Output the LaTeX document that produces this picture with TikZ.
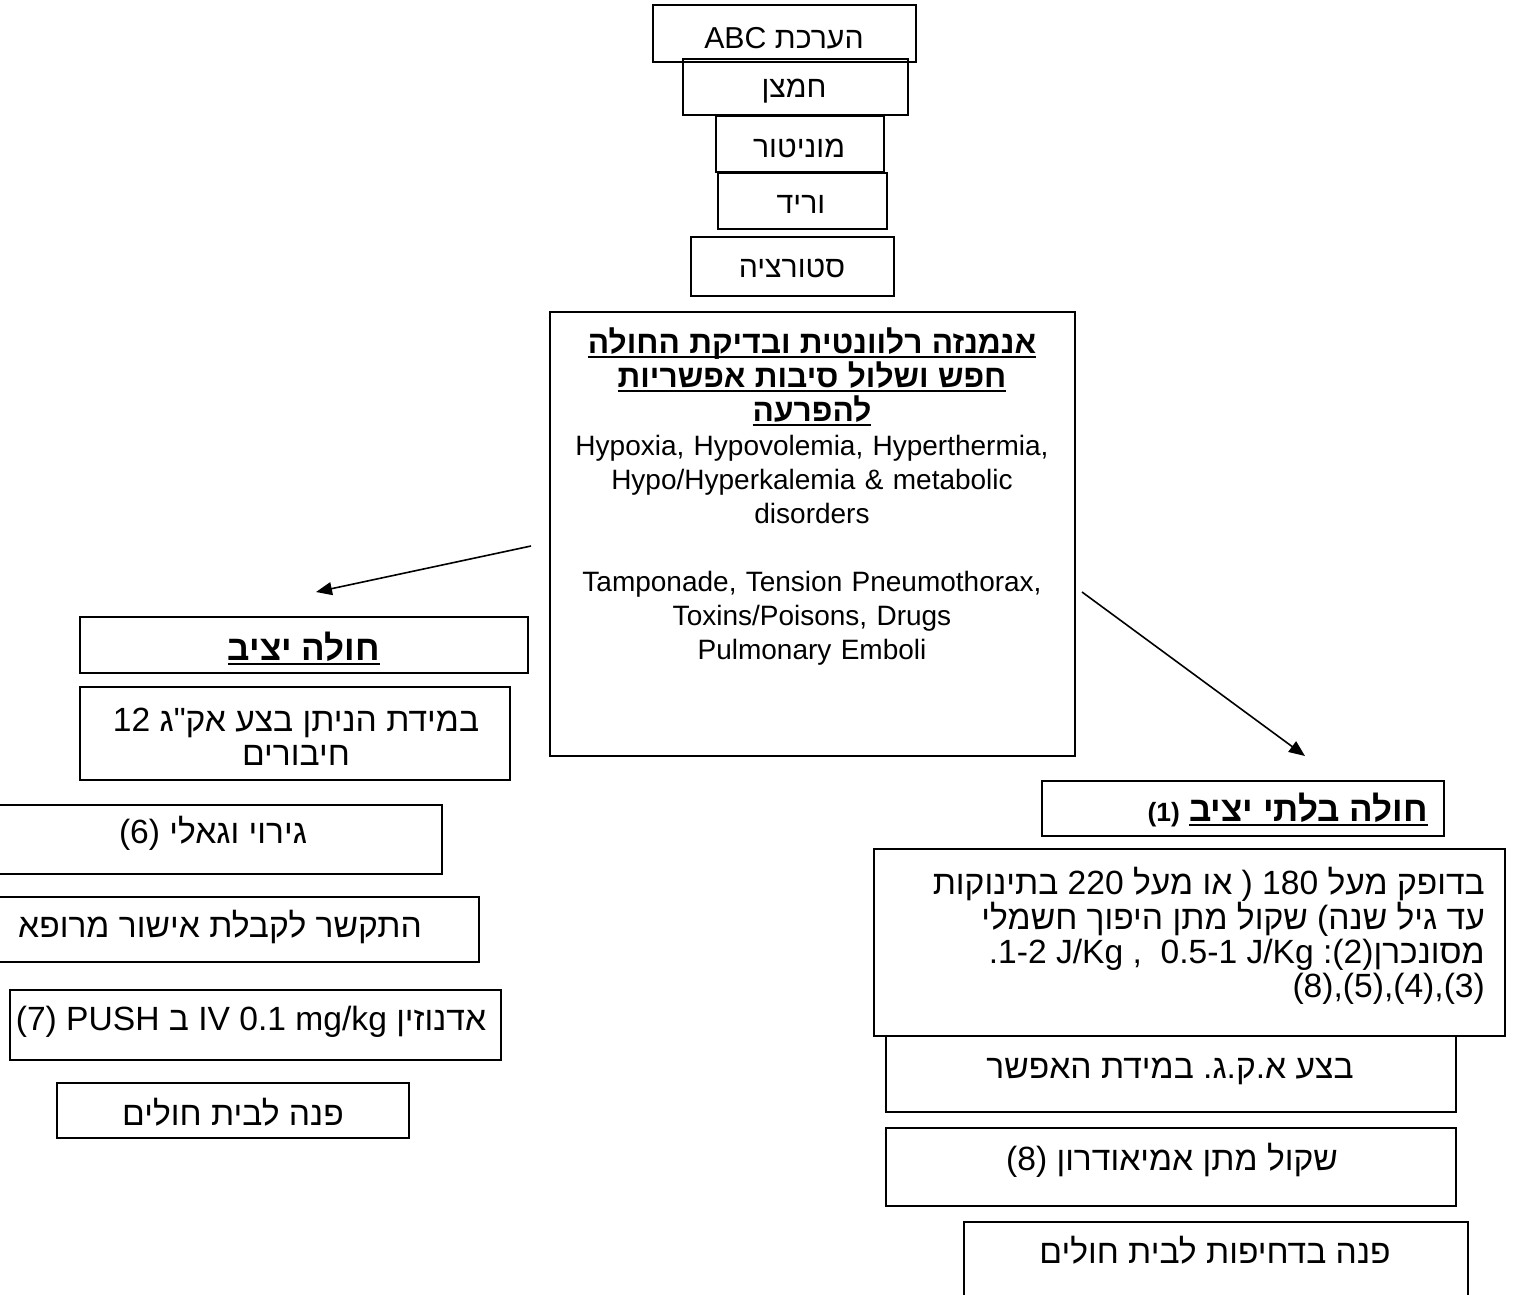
\documentclass[tikz,border=0pt]{standalone}
\usepackage{fontspec}
\setmainfont{Liberation Sans}
\newfontfamily\heb[Script=Hebrew,Ligatures=TeXOff,Scale=1.2]{Liberation Sans}
\TeXXeTstate=1
\frenchspacing
\usetikzlibrary{arrows.meta}

% underline a piece of text with a rule just below its baseline
\newcommand\hul[1]{\leavevmode\setbox0=\hbox{#1}\vtop{\copy0\kern-\dp0\kern3pt\hrule height 2pt}}
% right-to-left run
\newcommand\rl[1]{\beginR #1\endR}
% framed box given by its corners: name, x1, y1, x2, y2
\newcommand\pbox[5]{%
  \pgfmathsetmacro\bw{#4-#2}\pgfmathsetmacro\bh{#5-#3}%
  \node[frame, minimum width=\bw pt, minimum height=\bh pt] (#1) at ({(#2+#4)/2},{(#3+#5)/2}) {};}

\tikzset{
  frame/.style={draw, line width=1.8pt, inner sep=0pt},
  txt/.style={inner sep=0pt, anchor=base, font=\fontsize{28}{34}\selectfont\frenchspacing},
  smalltxt/.style={txt, font=\fontsize{25.2}{30}\selectfont\frenchspacing},
  para/.style={txt, align=center, text width=#1},
  link/.style={line width=1.6pt, -{Triangle[length=16pt,width=13pt]}},
}

\begin{document}
\begin{tikzpicture}[x=1pt,y=-1pt]
\useasboundingbox (0,0) rectangle (1514,1294);
\fill[white] (0,0) rectangle (1514,1294);

% initial steps
\pbox{abc}{653}{5}{916}{62}
\pbox{oxy}{683}{59}{908}{115}
\pbox{mon}{716}{116}{884}{172}
\pbox{vein}{718}{173}{887}{229}
\pbox{sat}{691}{237}{894}{296}
\node[smalltxt] (abc-t) at (784,48) {\heb\rl{הערכת ABC}};
\node[smalltxt] (oxy-t) at (794,97) {\heb\rl{חמצן}};
\node[smalltxt] (mon-t) at (799,157) {\heb\rl{מוניטור}};
\node[smalltxt] (vein-t) at (801,213) {\heb\rl{וריד}};
\node[smalltxt] (sat-t) at (792,277) {\heb\rl{סטורציה}};

% history and causes
\pbox{causes}{550}{312}{1075}{756}
\node[para=520pt] (causes-t) at (812,353) {%
{\fontsize{26.4}{34}\selectfont
\hul{\heb\bfseries\rl{אנמנזה רלוונטית ובדיקת החולה}}\\
\hul{\heb\bfseries\rl{חפש ושלול סיבות אפשריות}}\\
\hul{\heb\bfseries\rl{להפרעה}}}\\
Hypoxia, Hypovolemia, Hyperthermia,\\
Hypo/Hyperkalemia \& metabolic\\
disorders\\[34pt]
Tamponade, Tension Pneumothorax,\\
Toxins/Poisons, Drugs\\
Pulmonary Emboli};

% stable branch
\pbox{stable}{80}{617}{528}{673}
\pbox{ecg12}{80}{687}{510}{780}
\pbox{vagal}{-2}{805}{442}{874}
\pbox{doctor}{-2}{897}{479}{962}
\pbox{adeno}{10}{990}{501}{1060}
\pbox{hospA}{57}{1083}{409}{1138}
\node[txt] (stable-t) at (304,660) {\fontsize{29.2}{34}\selectfont\hul{\heb\bfseries\rl{חולה יציב}}};
\node[para=440pt] (ecg12-t) at (296,731) {\heb\rl{במידת הניתן בצע אק"ג 12}\\\rl{חיבורים}};
\node[txt] (vagal-t) at (213,843) {\heb\rl{גירוי וגאלי (6)}};
\node[txt] (doctor-t) at (220,937) {\heb\rl{התקשר לקבלת אישור מרופא}};
\node[txt] (adeno-t) at (251,1030) {\heb\rl{אדנוזין mg/kg 0.1 IV ב PUSH (7)}};
\node[txt] (hospA-t) at (233,1125) {\heb\rl{פנה לבית חולים}};

% unstable branch
\pbox{unstable}{1042}{781}{1444}{836}
\pbox{ekg}{886}{1036}{1456}{1112}
\pbox{cardio}{874}{849}{1505}{1036}
\pbox{amio}{886}{1128}{1456}{1206}
\pbox{hospB}{964}{1222}{1468}{1310}
\node[txt, anchor=base east] (unstable-t) at (1428,821)
  {\heb\bfseries\rl{\hul{\fontsize{29.2}{34}\selectfont\rl{חולה בלתי יציב}} {\fontsize{22}{26}\selectfont (1)}}};
\node[para=600pt, align=right, anchor=base east] (cardio-t) at (1485,894) {\heb
\rl{בדופק מעל 180 ( או מעל 220 בתינוקות}\\
\rl{עד גיל שנה) שקול מתן היפוך חשמלי}\\
\rl{מסונכרן(2): J/Kg 0.5-1\ \ , J/Kg 1-2.}\\
\rl{(3),(4),(5),(8)}};
\node[txt] (ekg-t) at (1170,1078) {\heb\rl{בצע א.ק.ג. במידת האפשר}};
\node[txt] (amio-t) at (1172,1170) {\heb\rl{שקול מתן אמיאודרון (8)}};
\node[txt] (hospB-t) at (1215,1263) {\heb\rl{פנה בדחיפות לבית חולים}};

% branching arrows
\coordinate (toStableFrom) at (531,546);
\coordinate (toStable) at (316,592);
\coordinate (toUnstableFrom) at (1082,592);
\coordinate (toUnstable) at (1305,756);
\draw[link] (toStableFrom) -- (toStable);
\draw[link] (toUnstableFrom) -- (toUnstable);
\end{tikzpicture}
\end{document}
